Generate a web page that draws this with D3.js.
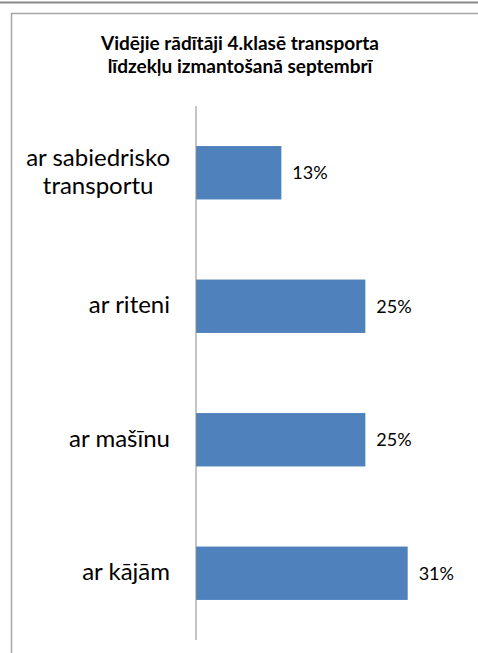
<!DOCTYPE html>
<html>
<head>
<meta charset="utf-8">
<script src="https://cdn.jsdelivr.net/npm/d3@7"></script>
<style>
  body { margin: 0; background: #fff; }
  svg { display: block; }
  text { font-family: Lato, "Open Sans", sans-serif; fill: #000; }
</style>
</head>
<body>
<script>
var categories = [["ar sabiedrisko", "transportu"], ["ar riteni"], ["ar mašīnu"], ["ar kājām"]];
var values = [0.125, 0.248, 0.248, 0.31];
var titleLines = ["Vidējie rādītāji 4.klasē transporta", "līdzekļu izmantošanā septembrī"];

var W = 478, H = 653;
var fmt = d3.format(".0%");

var svg = d3.select("body").append("svg")
  .attr("width", W)
  .attr("height", H);

// outer frame lines
svg.append("line")
  .attr("x1", 0).attr("x2", W).attr("y1", 2.5).attr("y2", 2.5)
  .attr("stroke", "#8a8a8a").attr("stroke-width", 2);
svg.append("rect")
  .attr("x", 11.5).attr("y", 13.5)
  .attr("width", W + 20).attr("height", H + 20)
  .attr("fill", "none").attr("stroke", "#a6a6a6").attr("stroke-width", 1.5);

svg.append("text")
  .attr("x", 240)
  .attr("y", 50)
  .attr("text-anchor", "middle")
  .style("font-size", "19px")
  .style("font-weight", "bold")
  .selectAll("tspan")
  .data(titleLines)
  .enter()
  .append("tspan")
  .attr("x", 240)
  .attr("dy", (d, i) => i ? 23 : 0)
  .text(d => d);

var x = d3.scaleLinear()
  .domain([0, 0.35])
  .range([196, 435]);

var y = d3.scaleBand()
  .domain(d3.range(categories.length))
  .range([106, 640])
  .paddingInner(0.6)
  .paddingOuter(0.3);

svg.selectAll("rect.bar")
  .data(values)
  .enter()
  .append("rect")
  .attr("class", "bar")
  .attr("x", x(0))
  .attr("y", (d, i) => y(i))
  .attr("width", d => x(d) - x(0))
  .attr("height", y.bandwidth())
  .attr("fill", "#4f81bd");

svg.selectAll("text.val")
  .data(values)
  .enter()
  .append("text")
  .attr("class", "val")
  .attr("x", d => x(d) + 11)
  .attr("y", (d, i) => y(i) + y.bandwidth() / 2)
  .attr("dy", "0.35em")
  .style("font-size", "18px")
  .text(d => fmt(d));

var cats = svg.selectAll("text.cat")
  .data(categories)
  .enter()
  .append("text")
  .attr("class", "cat")
  .attr("text-anchor", "middle")
  .style("font-size", "24px")
  .attr("y", (d, i) => y(i) + y.bandwidth() / 2 + 7 - (d.length - 1) * 14);

cats.selectAll("tspan")
  .data(d => d)
  .enter()
  .append("tspan")
  .attr("dy", (d, i) => i ? 28 : 0)
  .text(d => d);

// right-align each label block at x=170, centre lines within it
cats.each(function() {
  var t = d3.select(this).selectAll("tspan");
  var w = d3.max(t.nodes(), n => n.getComputedTextLength());
  t.attr("x", 170 - w / 2);
});

svg.append("line")
  .attr("x1", x(0)).attr("x2", x(0))
  .attr("y1", 106).attr("y2", 640)
  .attr("stroke", "#8c8c8c").attr("stroke-width", 1);
</script>
</body>
</html>
